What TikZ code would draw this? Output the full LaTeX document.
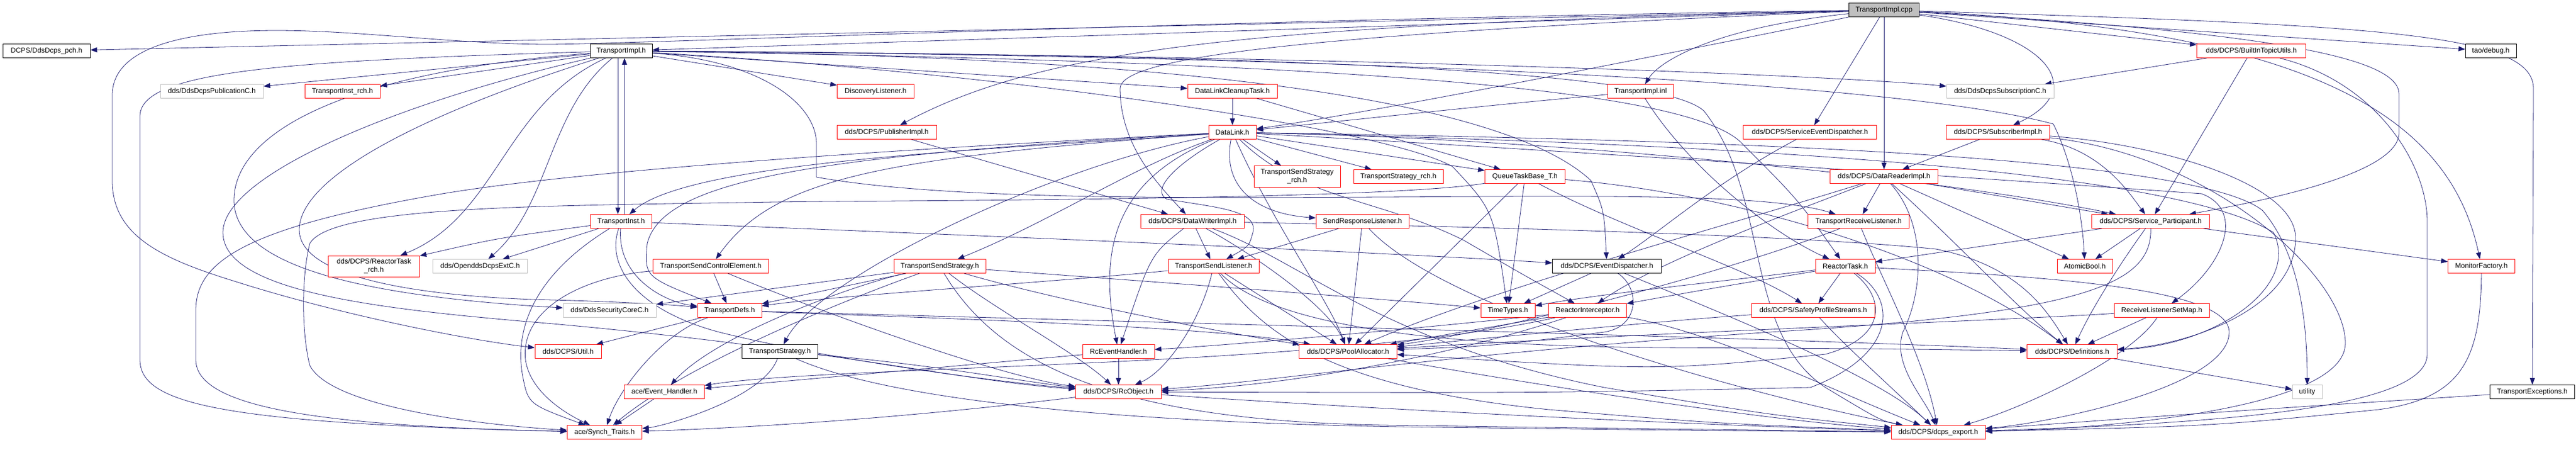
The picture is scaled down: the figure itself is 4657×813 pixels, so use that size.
\documentclass[tikz,border=0pt]{standalone}
\usepackage{fontspec}
\setmainfont{Liberation Sans}
\usetikzlibrary{arrows.meta}
\definecolor{edgeblue}{HTML}{191970}
\definecolor{boxgray}{HTML}{BFBFBF}
\pgfdeclarelayer{background}
\pgfsetlayers{background,main}

\begin{document}
\begin{tikzpicture}[x=1pt,y=-1pt,
    filebox/.style={draw,rectangle,fill=white,inner sep=0pt,minimum height=25pt,line width=0.9pt,align=center,font=\fontsize{12.8}{15}\selectfont},
    redbox/.style={filebox,draw=red},
    graybox/.style={filebox,draw=boxgray},
    blackbox/.style={filebox,draw=black},
    rootbox/.style={filebox,draw=black,fill=boxgray},
    dep/.style={draw=edgeblue,line width=0.8pt,-{Triangle[length=12pt,width=9pt]}}]
        \useasboundingbox (0,0) rectangle (4657,813);
        % row 0 and 1
        \node [rootbox, minimum width=127pt] (cpp) at (3406,18) {TransportImpl.cpp};
        \node [blackbox, minimum width=158pt] (pch) at (84,92) {DCPS/DdsDcps\_pch.h};
        \node [blackbox, minimum width=112pt] (impl) at (1123,92) {TransportImpl.h};
        \node [redbox, minimum width=197pt] (bitu) at (4070,92) {dds/DCPS/BuiltInTopicUtils.h};
        \node [blackbox, minimum width=92pt] (taodebug) at (4503,92) {tao/debug.h};
        % row 2
        \node [graybox, minimum width=186pt] (pubc) at (383,165) {dds/DdsDcpsPublicationC.h};
        \node [redbox, minimum width=136pt] (instrch) at (619,165) {TransportInst\_rch.h};
        \node [redbox, minimum width=139pt] (disc) at (1583,165) {DiscoveryListener.h};
        \node [redbox, minimum width=162pt] (dlct) at (2228,165) {DataLinkCleanupTask.h};
        \node [redbox, minimum width=119pt] (inl) at (2966,165) {TransportImpl.inl};
        \node [graybox, minimum width=194pt] (subc) at (3616,165) {dds/DdsDcpsSubscriptionC.h};
        % row 3
        \node [redbox, minimum width=180pt] (pubimpl) at (1603,239) {dds/DCPS/PublisherImpl.h};
        \node [redbox, minimum width=86pt] (datalink) at (2228,239) {DataLink.h};
        \node [redbox, minimum width=241pt] (sed) at (3272,239) {dds/DCPS/ServiceEventDispatcher.h};
        \node [redbox, minimum width=187pt] (subimpl) at (3612,239) {dds/DCPS/SubscriberImpl.h};
        % row 4
        \node [redbox, minimum width=156pt, minimum height=39pt] (tssrch) at (2345,319) {TransportSendStrategy\\\_rch.h};
        \node [redbox, minimum width=162pt] (tsrch) at (2528,319) {TransportStrategy\_rch.h};
        \node [redbox, minimum width=145pt] (qtb) at (2757,319) {QueueTaskBase\_T.h};
        \node [redbox, minimum width=195pt] (dri) at (3406,319) {dds/DCPS/DataReaderImpl.h};
        % row 5
        \node [redbox, minimum width=111pt] (inst) at (1123,400) {TransportInst.h};
        \node [redbox, minimum width=187pt] (dwi) at (2156,400) {dds/DCPS/DataWriterImpl.h};
        \node [redbox, minimum width=168pt] (srl) at (2463,400) {SendResponseListener.h};
        \node [redbox, minimum width=183pt] (trl) at (3360,400) {TransportReceiveListener.h};
        \node [redbox, minimum width=213pt] (sp) at (3888,400) {dds/DCPS/Service\_Participant.h};
        % row 6
        \node [redbox, minimum width=165pt, minimum height=38pt] (rtrch) at (676,481) {dds/DCPS/ReactorTask\\\_rch.h};
        \node [graybox, minimum width=171pt] (extc) at (868,481) {dds/OpenddsDcpsExtC.h};
        \node [redbox, minimum width=209pt] (tsce) at (1285,481) {TransportSendControlElement.h};
        \node [redbox, minimum width=166pt] (tss) at (1699,481) {TransportSendStrategy.h};
        \node [redbox, minimum width=164pt] (tsl) at (2194,481) {TransportSendListener.h};
        \node [blackbox, minimum width=197pt] (evd) at (2905,481) {dds/DCPS/EventDispatcher.h};
        \node [redbox, minimum width=108pt] (rtask) at (3336,481) {ReactorTask.h};
        \node [redbox, minimum width=100pt] (abool) at (3769,481) {AtomicBool.h};
        \node [redbox, minimum width=121pt] (mf) at (4486,481) {MonitorFactory.h};
        % row 7
        \node [graybox, minimum width=168pt] (seccore) at (1102,561) {dds/DdsSecurityCoreC.h};
        \node [redbox, minimum width=116pt] (tdefs) at (1319,561) {TransportDefs.h};
        \node [redbox, minimum width=98pt] (ttypes) at (2726,561) {TimeTypes.h};
        \node [redbox, minimum width=141pt] (rint) at (2870,561) {ReactorInterceptor.h};
        \node [redbox, minimum width=223pt] (sps) at (3278,561) {dds/DCPS/SafetyProfileStreams.h};
        \node [redbox, minimum width=172pt] (rlsm) at (3908,561) {ReceiveListenerSetMap.h};
        % row 8
        \node [redbox, minimum width=120pt] (util) at (1027,635) {dds/DCPS/Util.h};
        \node [blackbox, minimum width=137pt] (tstrat) at (1410,635) {TransportStrategy.h};
        \node [redbox, minimum width=130pt] (rceh) at (2022,635) {RcEventHandler.h};
        \node [redbox, minimum width=177pt] (pool) at (2437,635) {dds/DCPS/PoolAllocator.h};
        \node [redbox, minimum width=163pt] (defs) at (3746,635) {dds/DCPS/Definitions.h};
        % row 9 and 10
        \node [redbox, minimum width=145pt] (aceeh) at (1201,708) {ace/Event\_Handler.h};
        \node [redbox, minimum width=155pt] (rcobj) at (2022,708) {dds/DCPS/RcObject.h};
        \node [graybox, minimum width=54pt] (utility) at (4171,708) {utility};
        \node [blackbox, minimum width=153pt] (texc) at (4578,708) {TransportExceptions.h};
        \node [redbox, minimum width=135pt] (synch) at (1093,781) {ace/Synch\_Traits.h};
        \node [redbox, minimum width=170pt] (export) at (3504,781) {dds/DCPS/dcps\_export.h};

        \begin{pgfonlayer}{background}
        \fill [white] (0,0) rectangle (4657,813);
        % TransportImpl.cpp
        \draw [dep] (cpp) -- (pch);
        \draw [dep] (cpp) -- (impl);
        \draw [dep] (cpp) .. controls (2200,35) and (1150,80) .. (990,80) .. controls (830,80) and (650,55) .. (500,55) .. controls (350,55) and (205,80) .. (203,170) -- (203,330) .. controls (205,430) and (300,470) .. (430,510) .. controls (620,570) and (850,615) .. (util);
        \draw [dep] (cpp) .. controls (2300,45) and (1900,80) .. (pubimpl);
        \draw [dep] (cpp) .. controls (2400,60) and (2025,100) .. (2025,160) .. controls (2025,260) and (2090,330) .. (dwi);
        \draw [dep] (cpp) .. controls (3000,100) and (2500,200) .. (datalink);
        \draw [dep] (cpp) .. controls (3100,50) and (3000,110) .. (inl);
        \draw [dep] (cpp) -- (sed);
        \draw [dep] (cpp) -- (dri);
        \draw [dep] (cpp) .. controls (3700,60) and (3780,160) .. (subimpl);
        \draw [dep] (cpp) -- (bitu);
        \draw [dep] (cpp) -- (taodebug);
        \draw [dep] (cpp) .. controls (4200,55) and (4430,220) .. (mf);
        \draw [dep] (cpp) .. controls (4150,60) and (4337,110) .. (4337,170) -- (4337,240) .. controls (4337,320) and (4050,370) .. (sp);
        \draw [dep] (cpp) .. controls (4300,45) and (4580,60) .. (4580,160) -- (texc);
        % TransportImpl.h
        \draw [dep] (impl) -- (pubc);
        \draw [dep] (impl) -- (instrch);
        \draw [dep] (impl) -- (disc);
        \draw [dep] (impl) -- (dlct);
        \draw [dep] (impl) .. controls (2400,100) and (3300,135) .. (subc);
        \draw [dep] ([xshift=-6pt]impl.south) -- ([xshift=-6pt]inst.north);
        \draw [dep] (impl) .. controls (990,200) and (995,370) .. (extc);
        \draw [dep] (impl) .. controls (910,190) and (900,390) .. (rtrch);
        \draw [dep] (impl) .. controls (500,110) and (253,130) .. (253,210) -- (253,650) .. controls (253,730) and (400,765) .. (synch);
        \draw [dep] (impl) .. controls (620,130) and (425,240) .. (423,360) .. controls (421,480) and (650,535) .. (seccore);
        \draw [dep] (impl) .. controls (700,190) and (403,320) .. (403,420) .. controls (403,530) and (700,560) .. (1000,585) .. controls (1500,630) and (1750,690) .. (rcobj);
        \draw [dep] (impl) .. controls (720,220) and (541,330) .. (541,415) .. controls (541,510) and (800,538) .. (1000,542) .. controls (1150,546) and (1230,552) .. (tdefs);
        \draw [dep] (impl) .. controls (1380,110) and (1476,190) .. (1476,260) -- (1476,320) .. controls (1700,360) and (2100,358) .. (2500,356) .. controls (2900,354) and (3200,350) .. (trl);
        \draw [dep] (impl) .. controls (2300,100) and (3400,140) .. (3712,224) .. controls (3750,300) and (3765,400) .. (abool);
        \draw [dep] (impl) .. controls (2000,100) and (2697,160) .. (2876,326) .. controls (2900,380) .. (evd);
        \draw [dep] (impl) .. controls (1800,130) and (2500,230) .. (2626,301) .. controls (2700,380) .. (ttypes);
        \draw [dep] (impl) .. controls (2300,110) and (3050,150) .. (3150,260) .. controls (3250,360) .. (rtask);
        \draw [dep] (impl) .. controls (2400,100) and (3000,130) .. (3080,200) .. controls (3200,350) and (3150,600) .. (3300,700) .. controls (3400,760) .. (export);
        % TransportInst.h
        \draw [dep] ([xshift=6pt]inst.north) -- ([xshift=6pt]impl.south);
        \draw [dep] (inst) -- (extc);
        \draw [dep] (inst) .. controls (900,430) .. (rtrch);
        \draw [dep] (inst) .. controls (1115,500) and (1200,545) .. (tdefs);
        \draw [dep] (inst) .. controls (960,500) and (930,600) .. (945,680) .. controls (955,730) .. (synch);
        \draw [dep] (inst) .. controls (1500,415) and (2400,450) .. (evd);
        \draw [dep] (inst) .. controls (1095,480) and (1150,560) .. (1300,600) .. controls (1500,650) and (1800,690) .. (rcobj);
        % DataLinkCleanupTask.h, DataLink.h
        \draw [dep] (dlct) -- (datalink);
        \draw [dep] (dlct) -- (qtb);
        \draw [dep] (datalink) -- (tssrch);
        \draw [dep] (datalink) -- (tsrch);
        \draw [dep] (datalink) -- (qtb);
        \draw [dep] (datalink) .. controls (1800,270) and (1250,290) .. (inst);
        \draw [dep] (datalink) .. controls (1500,280) and (1200,320) .. (1170,440) .. controls (1165,500) .. (tdefs);
        \draw [dep] (datalink) .. controls (1600,285) and (1400,320) .. (tsce);
        \draw [dep] (datalink) .. controls (2050,300) and (1900,400) .. (tss);
        \draw [dep] (datalink) .. controls (2120,300) and (2080,345) .. (2110,360) .. controls (2200,375) and (2275,380) .. (2265,420) .. controls (2258,445) .. (tsl);
        \draw [dep] (datalink) .. controls (2210,330) and (2260,385) .. (srl);
        \draw [dep] (datalink) .. controls (2000,330) and (1990,470) .. (rceh);
        \draw [dep] (datalink) .. controls (1800,260) and (1100,300) .. (800,350) .. controls (450,410) and (354,470) .. (354,560) -- (354,650) .. controls (354,740) and (600,770) .. (synch);
        \draw [dep] (datalink) .. controls (1900,300) and (1480,500) .. (tstrat);
        \draw [dep] (datalink) .. controls (2300,400) and (2400,540) .. (pool);
        \draw [dep] (datalink) .. controls (2350,360) and (2498,360) .. (2646,434) .. controls (2760,500) .. (rint);
        \draw [dep] (datalink) .. controls (2800,270) and (3700,330) .. (3980,350) .. controls (4060,380) and (4020,480) .. (rlsm);
        \draw [dep] (datalink) .. controls (2900,250) and (3950,270) .. (4090,380) .. controls (4150,450) and (4171,560) .. (utility);
        \draw [dep] (datalink) .. controls (2800,250) and (3500,320) .. (sp);
        \draw [dep] (datalink) .. controls (2900,255) and (3900,290) .. (4110,420) .. controls (4160,520) and (4000,625) .. (defs);
        % TransportImpl.inl, ServiceEventDispatcher.h, SubscriberImpl.h
        \draw [dep] (inl) .. controls (2700,190) .. (datalink);
        \draw [dep] (inl) .. controls (3050,300) and (3200,420) .. (rtask);
        \draw [dep] (sed) .. controls (3100,330) and (3000,420) .. (evd);
        \draw [dep] (subimpl) -- (dri);
        \draw [dep] (subimpl) .. controls (3800,270) and (3850,350) .. (sp);
        \draw [dep] (subimpl) .. controls (3900,260) and (4150,330) .. (4150,430) .. controls (4150,560) and (3950,625) .. (defs);
        \draw [dep] (subimpl) .. controls (4000,280) and (4240,500) .. (4240,620) .. controls (4240,740) and (3800,775) .. (export);
        % DataReaderImpl.h, TransportReceiveListener.h
        \draw [dep] (dri) -- (trl);
        \draw [dep] (dri) -- (sp);
        \draw [dep] (dri) -- (abool);
        \draw [dep] (dri) .. controls (3550,450) and (3650,560) .. (defs);
        \draw [dep] (dri) .. controls (3480,400) and (3480,520) .. (3440,600) .. controls (3420,660) and (3480,720) .. (export);
        \draw [dep] (dri) .. controls (3150,400) and (2700,520) .. (pool);
        \draw [dep] (dri) .. controls (3250,380) and (3000,470) .. (rint);
        \draw [dep] (trl) .. controls (3400,500) and (3480,650) .. (export);
        \draw [dep] (trl) .. controls (3100,500) and (2700,600) .. (pool);
        % Service_Participant.h, BuiltInTopicUtils.h
        \draw [dep] (sp) -- (rtask);
        \draw [dep] (sp) -- (abool);
        \draw [dep] (sp) -- (mf);
        \draw [dep] (sp) .. controls (3830,480) and (3780,560) .. (defs);
        \draw [dep] (sp) .. controls (3890,510) and (3783,565) .. (3200,600) .. controls (2600,640) and (2300,690) .. (rcobj);
        \draw [dep] (bitu) -- (subc);
        \draw [dep] (bitu) -- (sp);
        \draw [dep] (bitu) .. controls (4300,150) and (4388,300) .. (4388,400) -- (4388,640) .. controls (4388,740) and (4000,765) .. (export);
        \draw [dep] (mf) .. controls (4485,650) and (4450,720) .. (4300,740) .. controls (4000,770) .. (export);
        \draw [dep] (texc) .. controls (4000,745) .. (export);
        % ReactorTask.h
        \draw [dep] (rtask) -- (sps);
        \draw [dep] (rtask) .. controls (3100,510) and (2900,530) .. (ttypes);
        \draw [dep] (rtask) .. controls (3100,520) .. (rint);
        \draw [dep] (rtask) .. controls (3700,500) and (4030,520) .. (4030,600) .. controls (4030,700) and (3700,765) .. (export);
        \draw [dep] (rtask) .. controls (3410,540) and (3410,610) .. (3300,640) .. controls (3000,670) .. (pool);
        \draw [dep] (rtask) .. controls (3430,540) and (3430,640) .. (3273,700) .. controls (2800,710) .. (rcobj);
        % SafetyProfileStreams.h, ReceiveListenerSetMap.h, Definitions.h
        \draw [dep] (sps) .. controls (3330,620) and (3420,700) .. (export);
        \draw [dep] (sps) .. controls (3000,580) and (2700,610) .. (pool);
        \draw [dep] (rlsm) -- (defs);
        \draw [dep] (rlsm) .. controls (3850,650) and (3650,740) .. (export);
        \draw [dep] (rlsm) .. controls (3600,580) and (3000,600) .. (pool);
        \draw [dep] (defs) -- (utility);
        % QueueTaskBase_T.h
        \draw [dep] (qtb) -- (ttypes);
        \draw [dep] (qtb) -- (pool);
        \draw [dep] (qtb) .. controls (2950,420) and (3150,480) .. (sps);
        \draw [dep] (qtb) .. controls (3100,345) and (3500,450) .. (defs);
        \draw [dep] (qtb) .. controls (2500,362) and (1600,362) .. (1400,365) .. controls (1000,372) and (600,370) .. (560,440) .. controls (545,500) and (545,600) .. (560,660) .. controls (600,740) and (900,770) .. (synch);
        % TransportDefs.h, TransportSendControlElement.h
        \draw [dep] (tdefs) -- (util);
        \draw [dep] (tdefs) .. controls (1200,600) and (1120,700) .. (synch);
        \draw [dep] (tdefs) .. controls (1700,575) and (2200,590) .. (pool);
        \draw [dep] (tdefs) .. controls (2000,580) and (3200,610) .. (defs);
        \draw [dep] (tsce) -- (tdefs);
        \draw [dep] (tsce) .. controls (1050,500) and (940,560) .. (950,650) .. controls (960,720) and (1050,760) .. (synch);
        \draw [dep] (tsce) .. controls (1450,550) and (1800,680) .. (rcobj);
        % TransportSendStrategy.h
        \draw [dep] (tss) -- (seccore);
        \draw [dep] (tss) -- (tdefs);
        \draw [dep] (tss) .. controls (1560,510) and (1300,600) .. (aceeh);
        \draw [dep] (tss) .. controls (1560,530) and (1250,650) .. (synch);
        \draw [dep] (tss) .. controls (1800,560) and (1950,640) .. (rcobj);
        \draw [dep] (tss) .. controls (1900,540) and (2200,600) .. (pool);
        \draw [dep] (tss) .. controls (1800,650) and (2000,760) .. (2500,768) .. controls (3000,775) .. (export);
        \draw [dep] (tss) .. controls (2100,510) and (2500,540) .. (ttypes);
        % TransportSendListener.h, SendResponseListener.h
        \draw [dep] (tsl) -- (pool);
        \draw [dep] (tsl) .. controls (2170,580) and (2110,670) .. (rcobj);
        \draw [dep] (tsl) .. controls (1900,510) and (1500,535) .. (tdefs);
        \draw [dep] (tsl) .. controls (2280,600) and (2400,700) .. (2800,740) .. controls (3100,765) .. (export);
        \draw [dep] (tsl) .. controls (2300,590) and (2600,625) .. (3000,628) .. controls (3400,630) .. (defs);
        \draw [dep] (srl) -- (tsl);
        \draw [dep] (srl) -- (pool);
        \draw [dep] (srl) .. controls (2600,550) and (3100,700) .. (export);
        % DataWriterImpl.h
        \draw [dep] (pubimpl) -- (dwi);
        \draw [dep] (dwi) -- (tsl);
        \draw [dep] (dwi) .. controls (2080,460) .. (rceh);
        \draw [dep] (dwi) .. controls (2250,450) and (2400,550) .. (pool);
        \draw [dep] (dwi) .. controls (2700,410) and (3250,425) .. (3500,450) .. controls (3650,480) and (3700,560) .. (defs);
        \draw [dep] (dwi) .. controls (2350,470) and (2500,620) .. (2900,700) .. controls (3200,750) .. (export);
        % EventDispatcher.h, ReactorInterceptor.h
        \draw [dep] (evd) -- (ttypes);
        \draw [dep] (evd) .. controls (2965,520) and (2965,590) .. (2900,600) .. controls (2700,625) .. (pool);
        \draw [dep] (evd) .. controls (3100,560) and (3400,680) .. (export);
        \draw [dep] (rint) -- (pool);
        \draw [dep] (rint) .. controls (2500,600) and (2200,625) .. (rceh);
        \draw [dep] (rint) .. controls (2400,665) and (1500,660) .. (aceeh);
        \draw [dep] (rint) .. controls (3100,600) and (3300,700) .. (export);
        \draw [dep] (rint) .. controls (2600,650) and (2300,700) .. (rcobj);
        % bottom rows
        \draw [dep] (tstrat) .. controls (1380,720) and (1200,770) .. (synch);
        \draw [dep] (tstrat) .. controls (1700,660) and (1850,690) .. (rcobj);
        \draw [dep] (tstrat) .. controls (1600,720) and (2000,765) .. (2600,772) .. controls (3100,778) .. (export);
        \draw [dep] (rceh) -- (rcobj);
        \draw [dep] (rceh) -- (aceeh);
        \draw [dep] (aceeh) -- (synch);
        \draw [dep] (rcobj) .. controls (1600,760) and (1300,775) .. (synch);
        \draw [dep] (rcobj) .. controls (2500,740) and (3000,765) .. (export);
        \draw [dep] (pool) .. controls (2800,700) and (3200,760) .. (export);
        \end{pgfonlayer}
\end{tikzpicture}
\end{document}
